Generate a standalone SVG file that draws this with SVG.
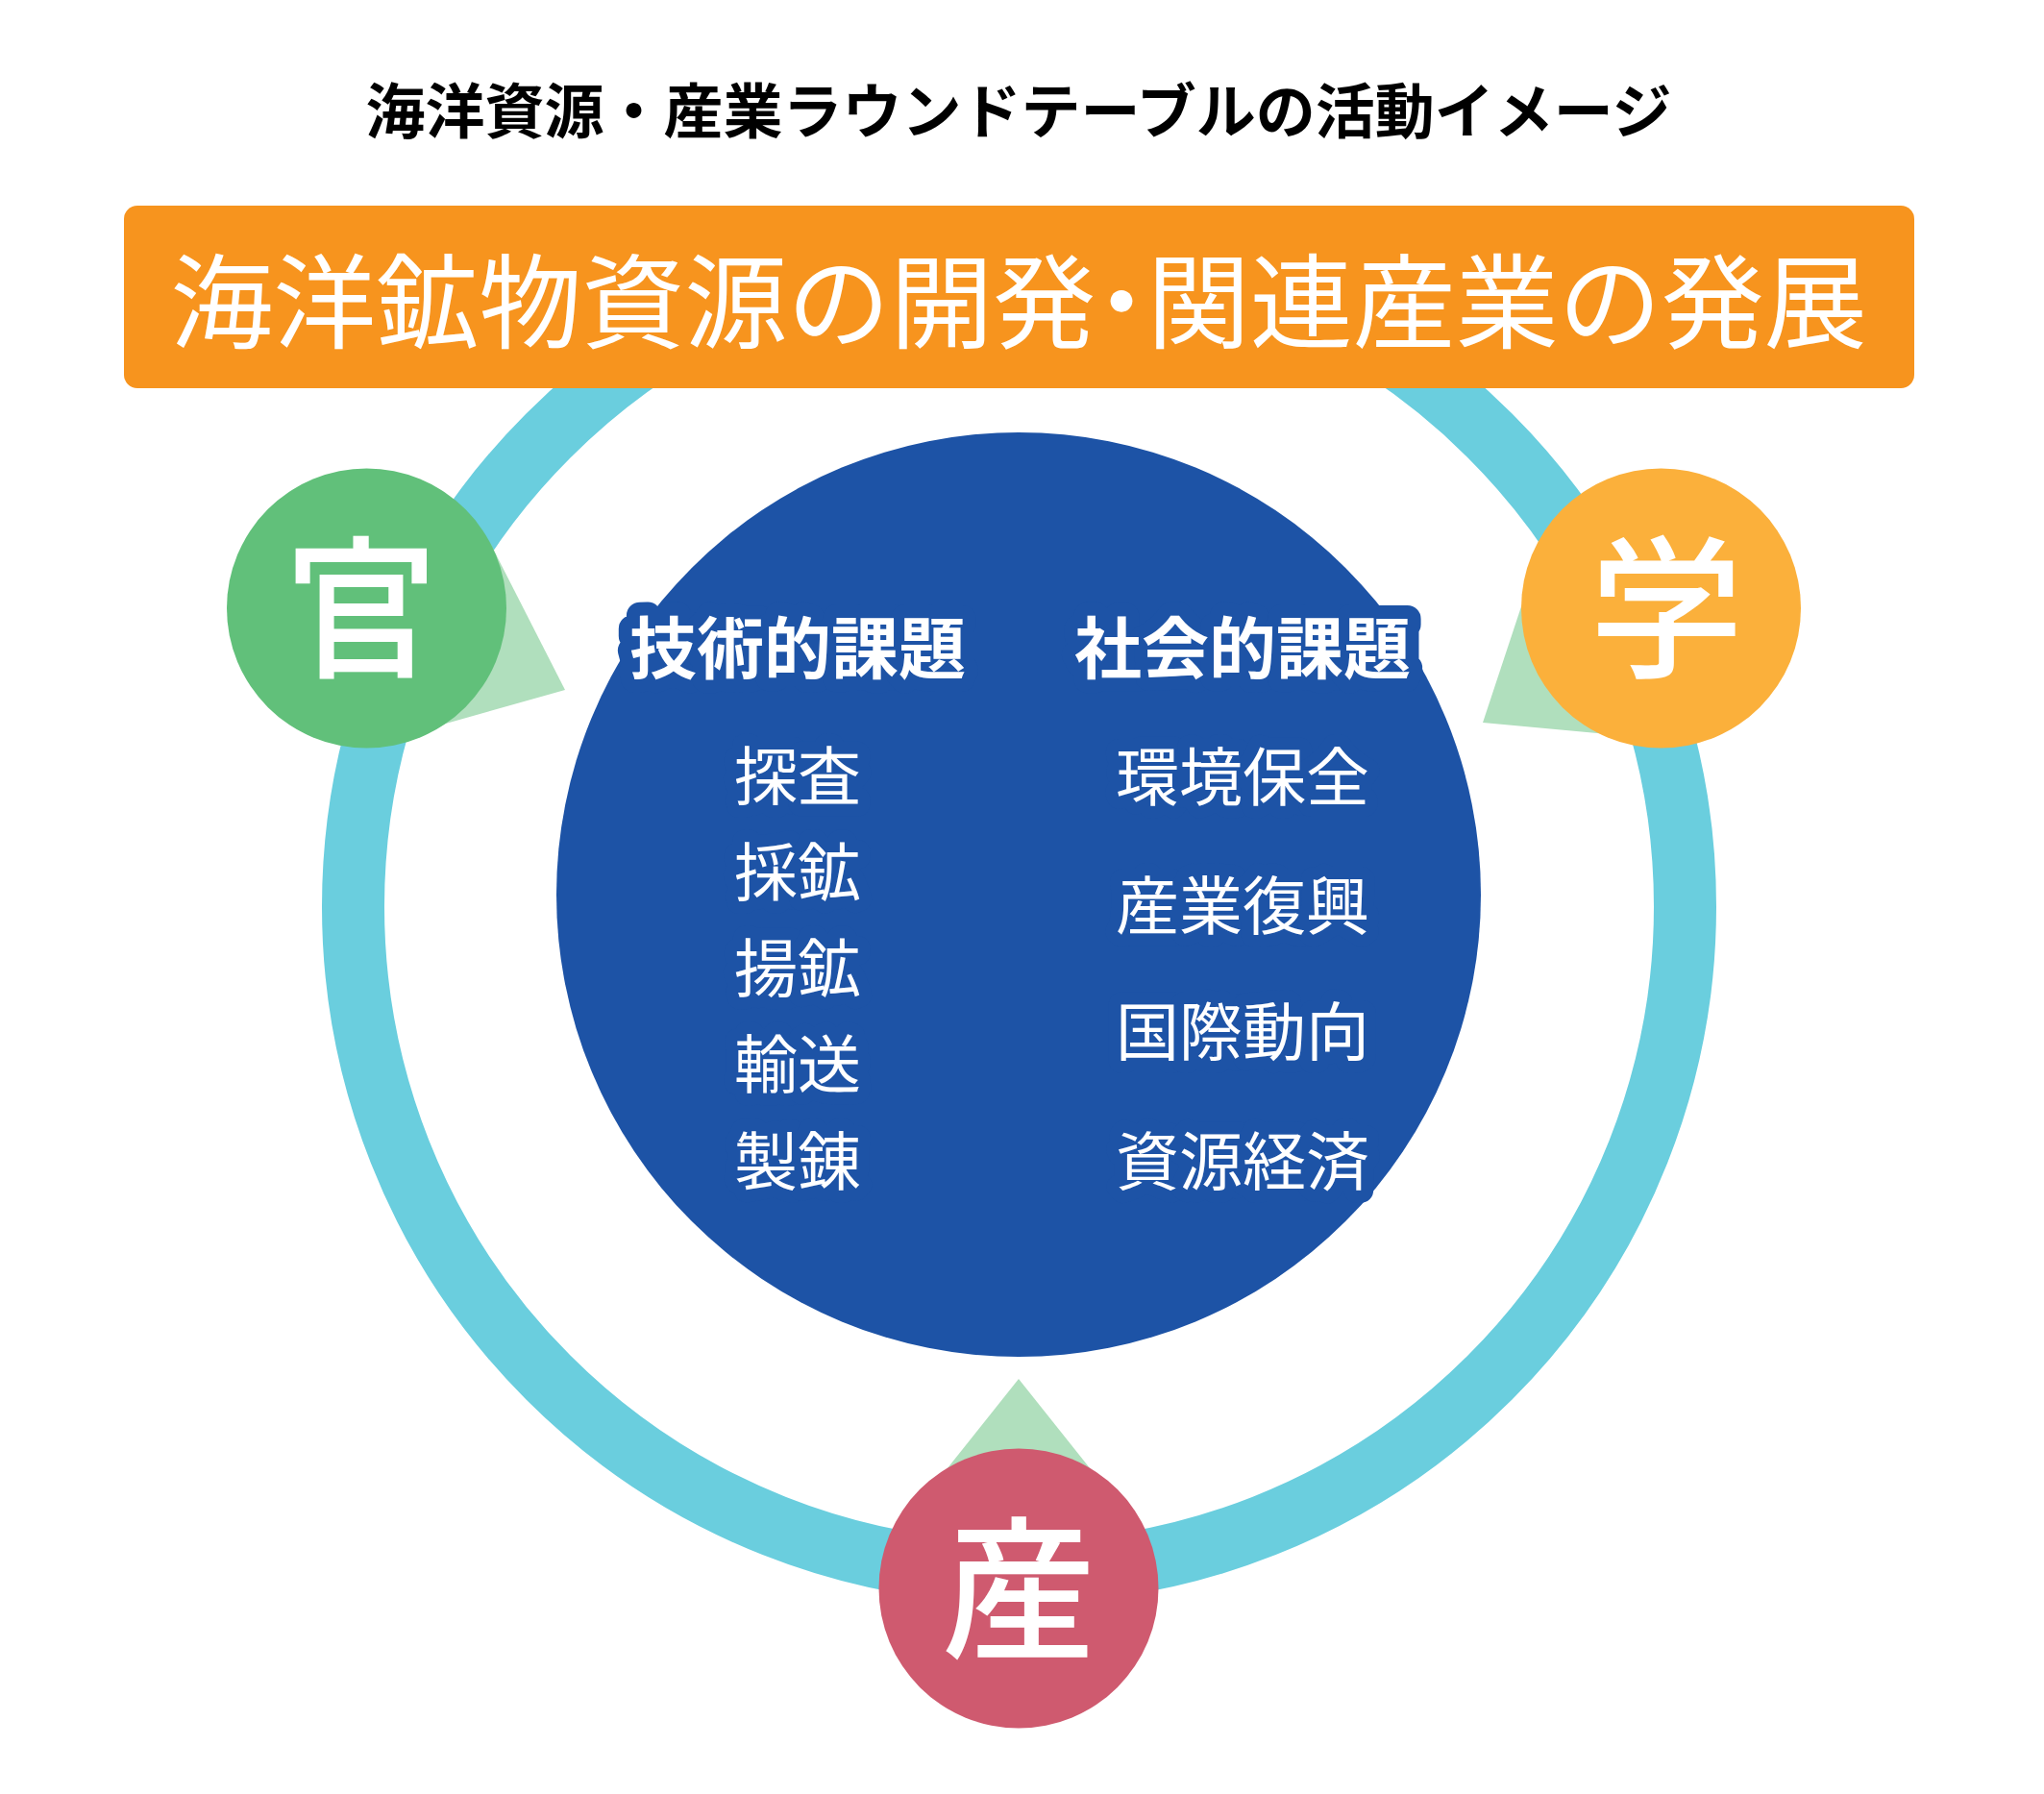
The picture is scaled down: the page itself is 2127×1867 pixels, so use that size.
<svg xmlns="http://www.w3.org/2000/svg" width="2127" height="1867" viewBox="0 0 2127 1867">
<style>
text{font-family:"Noto Sans CJK JP","Noto Sans CJK SC",sans-serif;text-anchor:middle;}
.title{font-size:62px;font-weight:700;fill:#000;}
.banner{font-size:107px;font-weight:400;fill:#fff;}
.palt{font-feature-settings:"palt" 1;}
.head{font-size:70px;font-weight:700;fill:#fff;stroke:#1D53A6;stroke-width:28px;stroke-linejoin:round;paint-order:stroke;}
.item{font-size:66px;font-weight:400;fill:#fff;stroke:#1D53A6;stroke-width:26px;stroke-linejoin:round;paint-order:stroke;}
.big{font-size:160px;font-weight:500;fill:#fff;}
.arrow{fill:#B0DFBD;}
</style>
<rect width="2127" height="1867" fill="#fff"/>
<g id="title"><text class="title" x="1060" y="139">海洋資源・産業ラウンドテーブルの活動イメージ</text></g>
<g id="ring"><circle cx="1060.5" cy="943.5" r="693" fill="none" stroke="#6ACEDE" stroke-width="65"/></g>
<g id="banner">
<rect x="129" y="214" width="1863" height="190" rx="14" fill="#F7941E"/>
<text class="banner" x="1060" y="354">海洋鉱物資源の開発<tspan class="palt">・</tspan>関連産業の発展</text>
</g>
<g id="center">
<circle cx="1060" cy="931" r="481" fill="#1D53A6"/>
<text class="head" x="830" y="701">技術的課題</text>
<text class="head" x="1293" y="701">社会的課題</text>
<text class="item" x="830" y="832">探査</text>
<text class="item" x="830" y="932">採鉱</text>
<text class="item" x="830" y="1032">揚鉱</text>
<text class="item" x="830" y="1132">輸送</text>
<text class="item" x="830" y="1233">製錬</text>
<text class="item" x="1293" y="833">環境保全</text>
<text class="item" x="1293" y="967">産業復興</text>
<text class="item" x="1293" y="1098">国際動向</text>
<text class="item" x="1293" y="1233">資源経済</text>
</g>
<g id="connectors">
<polygon class="arrow" points="588,718 511,567 381,633 418,766"/>
<polygon class="arrow" points="1543,752 1597,589 1728,633 1716,768"/>
<polygon class="arrow" points="1060,1435 954,1568 1060,1653 1166,1568"/>
</g>
<g id="kan"><circle cx="381.5" cy="633" r="145.5" fill="#61C07A"/><text class="big" x="376" y="693">官</text></g>
<g id="gaku"><circle cx="1728.5" cy="633" r="145.5" fill="#FBB03B"/><text class="big" x="1734" y="693">学</text></g>
<g id="san"><circle cx="1060" cy="1653" r="145.5" fill="#CF5A6F"/><text class="big" x="1060" y="1714">産</text></g>
</svg>
